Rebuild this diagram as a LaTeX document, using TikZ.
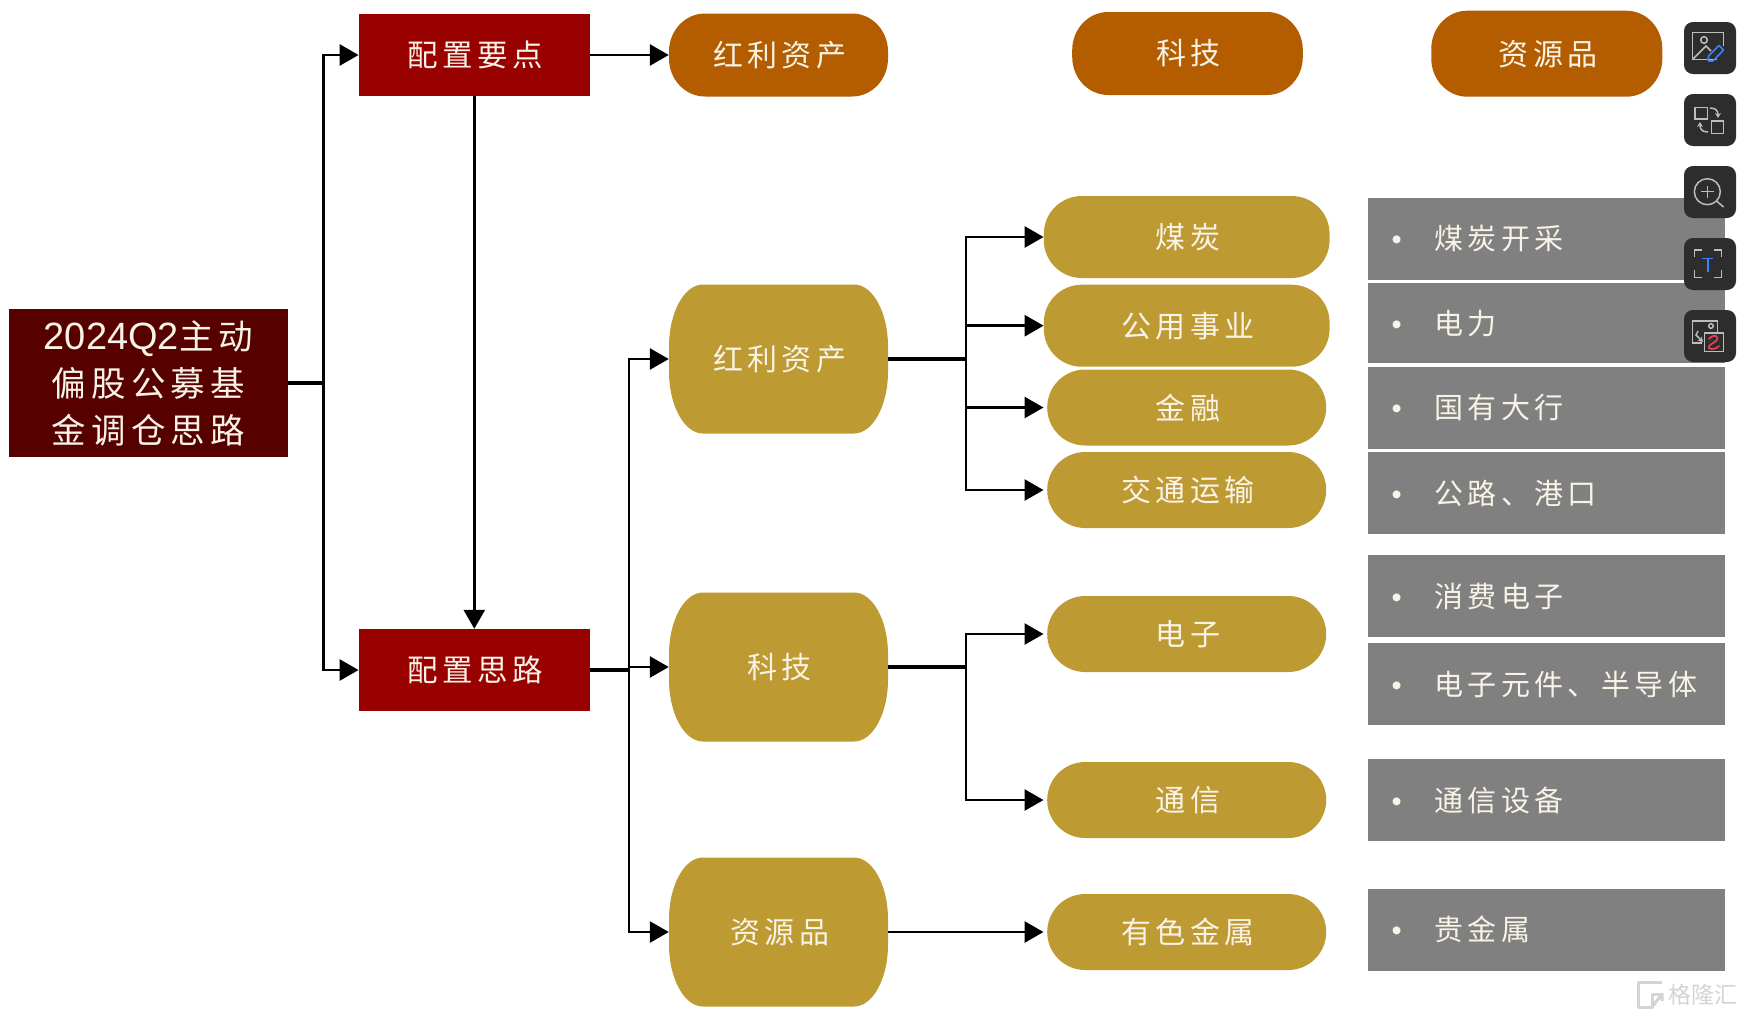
\documentclass[tikz,border=0pt]{standalone}
\usepackage{fontspec}
\setmainfont{Liberation Sans}
\newfontfamily\cnfont[LetterSpace=15]{Noto Sans CJK SC}
\newfontfamily\plaincn{Noto Sans CJK SC}
\usetikzlibrary{arrows.meta}
\definecolor{darkred}{HTML}{560000}
\definecolor{boxred}{HTML}{990000}
\definecolor{rust}{HTML}{B35C00}
\definecolor{goldc}{HTML}{BE9A33}
\definecolor{slate}{HTML}{808080}
\definecolor{cream}{HTML}{F8F3E6}
\definecolor{btn}{HTML}{2D2D2D}
\definecolor{iconc}{HTML}{BDBDBD}
\definecolor{iconblue}{HTML}{3B82F6}
\definecolor{iconpink}{HTML}{F0405A}
\definecolor{markc}{HTML}{D4D4D4}
\newcommand{\dotitem}[1]{\makebox[67pt][l]{\hspace{24pt}•}{\cnfont #1}}
\tikzset{
  wire/.style={line width=2.8pt,black},
  link/.style={wire,-{Triangle[length=19pt,width=21pt]}},
  redbox/.style={fill=boxred,text=cream,minimum width=231pt,minimum height=82pt,inner sep=0pt,font=\fontsize{30.5}{34}\selectfont\cnfont\kern2.5pt},
  capsule/.style n args={3}{text=cream,inner sep=0pt,font=\fontsize{30}{34}\selectfont\cnfont\kern2.5pt,
    path picture={\fill[#1] ([xshift=#2]path picture bounding box.north west) -- ([xshift=-#2]path picture bounding box.north east)
      arc[start angle=90,end angle=0,x radius=#2,y radius=#3] -- ([yshift=#3]path picture bounding box.south east)
      arc[start angle=0,end angle=-90,x radius=#2,y radius=#3] -- ([xshift=#2]path picture bounding box.south west)
      arc[start angle=270,end angle=180,x radius=#2,y radius=#3] -- ([yshift=-#3]path picture bounding box.north west)
      arc[start angle=180,end angle=90,x radius=#2,y radius=#3] -- cycle;}},
  toppill/.style={capsule={rust}{36pt}{38pt},minimum height=83pt},
  tallpill/.style={capsule={goldc}{34pt}{62pt},minimum width=219pt,minimum height=149pt},
  widepill/.style={capsule={goldc}{38pt}{37.9pt},minimum height=76pt,minimum width=279pt},
  itembox/.style={fill=slate,text=cream,minimum height=82pt,inner sep=0pt,text width=357.6pt,align=left,
    font=\fontsize{29}{32}\selectfont},
  toolbtn/.style={fill=btn,rounded corners=9pt,minimum size=52pt,inner sep=0pt},
  icon/.style={draw=iconc,line width=1.5pt}
}
\begin{document}
\begin{tikzpicture}[x=1pt,y=-1pt]
\path[use as bounding box,fill=white] (0,0) rectangle (1744,1018);

% Root box
\node[fill=darkred,text=cream,minimum width=278.5pt,minimum height=147.5pt,inner sep=0pt,align=center,
  font=\fontsize{34}{47}\selectfont] (rootbox) at (148.5,383)
  {\fontsize{38}{47}\selectfont 2024Q2{\fontsize{34.5}{47}\selectfont\cnfont 主动}\\{\fontsize{34.5}{47}\selectfont\cnfont 偏股公募基}\\{\fontsize{34.5}{47}\selectfont\cnfont 金调仓思路}};

% Red boxes
\node[redbox] (pointbox) at (474.3,55) {配置要点};
\node[redbox] (ideabox) at (474.3,670) {配置思路};

% Top row
\node[toppill,minimum width=219pt] (topbonus) at (778.5,55) {红利资产};
\node[toppill,minimum width=230.6pt] (toptech) at (1187.5,53.5) {科技};
\node[toppill,minimum width=231pt,minimum height=86pt] (topres) at (1546.8,53.7) {资源品};

% Middle column
\node[tallpill] (midbonus) at (778.5,359) {红利资产};
\node[tallpill] (midtech) at (778.5,667) {科技};
\node[tallpill] (midres) at (778.5,932) {资源品};

% Industry pills
\node[widepill,minimum width=285.8pt,minimum height=82pt] (coal) at (1186.7,237) {煤炭};
\node[widepill,minimum width=285.8pt,minimum height=82pt] (utility) at (1186.7,325.7) {公用事业};
\node[widepill] (finance) at (1186.7,407.5) {金融};
\node[widepill] (traffic) at (1186.7,490) {交通运输};
\node[widepill] (electron) at (1186.7,634) {电子};
\node[widepill] (telecom) at (1186.7,800) {通信};
\node[widepill] (metal) at (1186.7,932) {有色金属};

% Grey item boxes
\node[itembox] (itemcoal) at (1546.4,238.5) {\dotitem{煤炭开采}};
\node[itembox,minimum height=80pt] (itempower) at (1546.4,323.2) {\dotitem{电力}};
\node[itembox] (itembank) at (1546.4,407.9) {\dotitem{国有大行}};
\node[itembox] (itemroad) at (1546.4,493.2) {\dotitem{公路、港口}};
\node[itembox] (itemconsumer) at (1546.4,596) {\dotitem{消费电子}};
\node[itembox] (itemchip) at (1546.4,684.3) {\dotitem{电子元件、半导体}};
\node[itembox] (itemcomm) at (1546.4,800) {\dotitem{通信设备}};
\node[itembox] (itemgold) at (1546.4,929.7) {\dotitem{贵金属}};

% Bus points
\coordinate (busa) at (323.7,383);
\coordinate (busb) at (629,670);
\coordinate (busc) at (966,359);
\coordinate (busd) at (966,667);

% Connectors
\draw[wire,line width=3.2pt] (rootbox.east) -- (busa);
\draw[link] (busa) |- (pointbox.west);
\draw[link] (busa) |- (ideabox.west);
\draw[link] (pointbox.east) -- (topbonus.west);
\draw[link] (pointbox.south) -- (ideabox.north);
\draw[wire,line width=3.2pt] (ideabox.east) -- (busb);
\draw[link] (busb) |- (midbonus.west);
\draw[link] (busb) |- (midtech.west);
\draw[link] (busb) |- (midres.west);
\draw[wire,line width=3.2pt] (midbonus.east) -- (busc);
\draw[link] (busc) |- (coal.west);
\draw[link] (busc) |- (utility.west);
\draw[link,shorten >=3.5pt] (busc) |- (finance.west);
\draw[link,shorten >=3.5pt] (busc) |- (traffic.west);
\draw[wire,line width=3.2pt] (midtech.east) -- (busd);
\draw[link,shorten >=3.5pt] (busd) |- (electron.west);
\draw[link,shorten >=3.5pt] (busd) |- (telecom.west);
\draw[link,shorten >=3.5pt] (midres.east) -- (metal.west);

% Toolbar buttons
\node[toolbtn] (btnedit) at (1710,48) {};
\node[toolbtn] (btnswap) at (1710,120) {};
\node[toolbtn] (btnzoom) at (1710,192) {};
\node[toolbtn] (btntext) at (1710,264) {};
\node[toolbtn] (btnlink) at (1710,336) {};

% Toolbar icons
\draw[icon] (1717,59.3) -- (1692.7,59.3) -- (1692.7,32.7) -- (1723.3,32.7) -- (1723.3,46);
\draw[icon] (1704,40) circle (3.3pt);
\draw[icon] (1693,59) -- (1706,46) -- (1711,51);
\draw[draw=iconblue,line width=1.6pt,line join=round] (1708.5,61) -- (1708.5,56) -- (1719,45.5) -- (1723.5,50) -- (1713,61) -- cycle;

\draw[icon] (1695,107.3) rectangle (1707.3,119);
\draw[icon] (1711.7,121) rectangle (1723.3,133.3);
\draw[icon,-{Stealth[length=5pt,width=6pt]}] (1710,108) .. controls (1715,108) and (1718,110) .. (1718,118);
\draw[icon,-{Stealth[length=5pt,width=6pt]}] (1708,132) .. controls (1703,132) and (1700,130) .. (1700,122);

\draw[icon] (1707.3,191.7) circle (13pt);
\draw[icon] (1716.5,201) -- (1723.5,207);
\draw[icon] (1701,191.7) -- (1713.5,191.7);
\draw[icon] (1707.3,185.5) -- (1707.3,198);

\draw[icon] (1694.3,257) -- (1694.3,250) -- (1702,250);
\draw[icon] (1714,250) -- (1721.7,250) -- (1721.7,257);
\draw[icon] (1721.7,270) -- (1721.7,277.3) -- (1714,277.3);
\draw[icon] (1702,277.3) -- (1694.3,277.3) -- (1694.3,270);
\draw[draw=iconblue,line width=1.6pt] (1702,258.3) -- (1713.3,258.3);
\draw[draw=iconblue,line width=1.6pt] (1707.7,258.3) -- (1707.7,271.7);

\draw[icon] (1702,343) -- (1692.7,343) -- (1692.7,321) -- (1717.3,321) -- (1717.3,333);
\draw[icon] (1711,326) circle (2.3pt);
\draw[icon,-{Stealth[length=5pt,width=6pt]}] (1698,331) -- (1696,335) -- (1703,342);
\draw[icon,fill=btn] (1704.7,333) rectangle (1723.3,351.7);
\draw[draw=iconpink,line width=1.6pt,line cap=round] (1709,339) .. controls (1714,333) and (1720,336) .. (1716,341) .. controls (1712,344) and (1708,345) .. (1709,348) .. controls (1711,350) and (1716,349) .. (1719,346);

% Watermark
\draw[markc,line width=3pt,line join=round] (1662,982) -- (1638,982) -- (1638,1007) -- (1652,1007) -- (1652,994) -- (1662,994);
\draw[markc,line width=3pt,line join=round] (1652,1007) -- (1662,994) -- (1662,1001);
\node[text=markc,inner sep=0pt,font=\fontsize{23}{26}\selectfont\plaincn] (markname) at (1703,995) {格隆汇};
\end{tikzpicture}
\end{document}
